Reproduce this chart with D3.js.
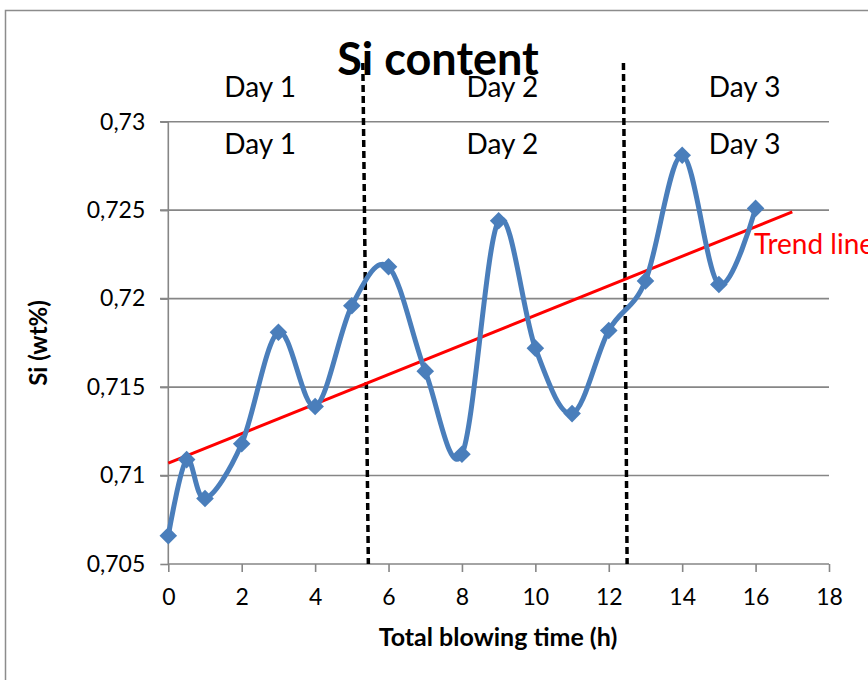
<!DOCTYPE html>
<html><head><meta charset="utf-8">
<script src="https://cdn.jsdelivr.net/npm/d3@7"></script>
<style>body{margin:0;background:#fff}svg{display:block}</style>
</head><body>
<svg id="c" width="868" height="680"></svg>
<script>
const hours = [0,0.5,1,2,3,4,5,6,7,8,9,10,11,12,13,14,15,16];
const siValues = [0.7066,0.7109,0.7087,0.7118,0.7181,0.7139,0.7196,0.7218,0.7159,0.7112,0.7244,0.7172,0.7135,0.7182,0.7210,0.7281,0.7208,0.7251];
const trendX = [0,17];
const trendY = [0.7107,0.7249];
const dayBoundTop = [5.3,12.4];
const dayBoundBottom = [5.45,12.5];
const dayLabels = ["Day 1","Day 2","Day 3"];
const dayLabelX = [2.5,9.1,15.7];
const xTicks = [0,2,4,6,8,10,12,14,16,18];
const yTicks = [0.705,0.71,0.715,0.72,0.725,0.73];
const yTickLabels = ["0,705","0,71","0,715","0,72","0,725","0,73"];

const svg = d3.select("#c");
const font = "Lato, 'Open Sans', sans-serif";
const x = d3.scaleLinear().domain([0,18]).range([168.3,829]);
const y = d3.scaleLinear().domain([0.705,0.73]).range([564,121.7]);

// outer frame
svg.append("path").attr("d","M5.5,680 V10.5 H868").attr("fill","none").attr("stroke","#8c8c8c").attr("stroke-width",1.5);

// gridlines
svg.append("g").selectAll("line").data(yTicks.slice(1)).join("line")
  .attr("x1",160).attr("x2",x(18)).attr("y1",d=>y(d)).attr("y2",d=>y(d))
  .attr("stroke","#868686").attr("stroke-width",1.6);

// y axis
const ya = svg.append("g").attr("transform",`translate(${x(0)},0)`)
  .call(d3.axisLeft(y).tickValues(yTicks).tickFormat((d,i)=>yTickLabels[i]).tickSize(8).tickPadding(15));
ya.select(".domain").attr("stroke","#868686").attr("stroke-width",1.6).attr("d",`M0,${y(0.73)}V${y(0.705)}`);
ya.selectAll(".tick line").attr("stroke","#868686").attr("stroke-width",1.6);
ya.selectAll("text").attr("font-family",font).attr("font-size",23).attr("fill","#000");

// x axis
const xa = svg.append("g").attr("transform",`translate(0,${y(0.705)})`)
  .call(d3.axisBottom(x).tickValues(xTicks).tickFormat(d3.format("d")).tickSize(8).tickPadding(17));
xa.select(".domain").attr("stroke","#868686").attr("stroke-width",1.6).attr("d",`M${x(0)},0H${x(18)}`);
xa.selectAll(".tick line").attr("stroke","#868686").attr("stroke-width",1.6);
xa.selectAll("text").attr("font-family",font).attr("font-size",23).attr("fill","#000");

// dashed day boundaries
svg.append("g").selectAll("line").data(dayBoundTop).join("line")
  .attr("x1",d=>x(d)).attr("x2",(d,i)=>x(dayBoundBottom[i]))
  .attr("y1",63).attr("y2",y(0.705))
  .attr("stroke","#000").attr("stroke-width",3.5).attr("stroke-dasharray","7,4");

// trend line
svg.append("line").attr("x1",x(trendX[0])).attr("y1",y(trendY[0]))
  .attr("x2",x(trendX[1])).attr("y2",y(trendY[1]))
  .attr("stroke","#ff0000").attr("stroke-width",3);

// series
const line = d3.line().x((d,i)=>x(hours[i])).y(d=>y(d)).curve(d3.curveCardinal.tension(0));
svg.append("path").datum(siValues).attr("d",line).attr("fill","none")
  .attr("stroke","#4a7ebb").attr("stroke-width",5);
svg.append("g").selectAll("path").data(siValues).join("path")
  .attr("d",d3.symbol(d3.symbolSquare,155))
  .attr("transform",(d,i)=>`translate(${x(hours[i])},${y(d)}) rotate(45)`)
  .attr("fill","#4a7ebb");

// day labels (two rows)
[97,154].forEach(ty=>{
  svg.append("g").selectAll("text").data(dayLabels).join("text")
    .attr("x",(d,i)=>x(dayLabelX[i])).attr("y",ty).attr("text-anchor","middle")
    .attr("font-family",font).attr("font-size",28).attr("fill","#000").text(d=>d);
});

// title
svg.append("text").attr("x",438).attr("y",75).attr("text-anchor","middle")
  .attr("font-family",font).attr("font-weight","bold").attr("font-size",45).text("Si content");

// trend label
svg.append("text").attr("x",754).attr("y",254).attr("font-family",font).attr("font-size",28)
  .attr("fill","#ff0000").text("Trend line");

// axis titles
svg.append("text").attr("x",498).attr("y",646).attr("text-anchor","middle")
  .attr("font-family",font).attr("font-weight","bold").attr("font-size",25).text("Total blowing time (h)");
svg.append("text").attr("transform","translate(47,343) rotate(-90)").attr("text-anchor","middle")
  .attr("font-family",font).attr("font-weight","bold").attr("font-size",24).text("Si (wt%)");
</script>
</body></html>
